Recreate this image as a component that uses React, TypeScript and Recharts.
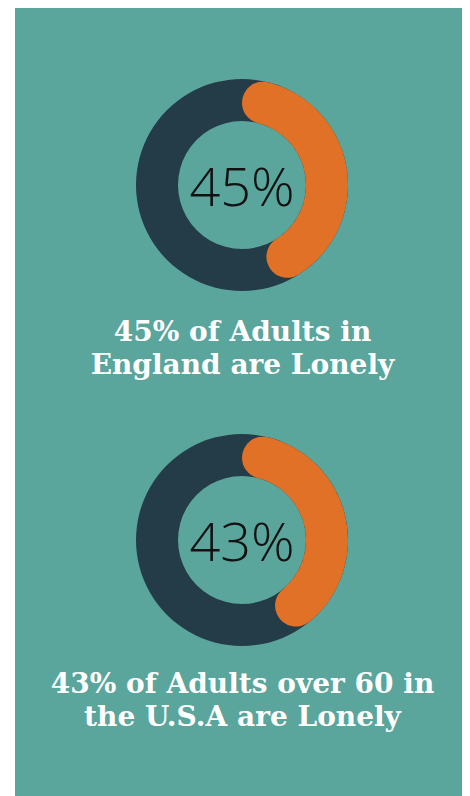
import { PieChart, Pie, Cell } from 'recharts';

const regions = ['England', 'U.S.A'];
const lonelyPct = [45, 43];
const captionLines = [
  ['45% of Adults in', 'England are Lonely'],
  ['43% of Adults over 60 in', 'the U.S.A are Lonely'],
];

const BG = '#5aa59c';
const DARK = '#243b48';
const ORANGE = '#e27128';

const CX = 227;
const centersY = [177, 532];
const captionTop = [307, 659];

export default function App() {
  return (
    <div style={{ position: 'relative', marginLeft: 7, width: 455, height: 788, background: BG }}>
      <PieChart
        width={455}
        height={788}
        margin={{ top: 0, right: 0, bottom: 0, left: 0 }}
        style={{ position: 'absolute', left: 0, top: 0 }}
      >
        {regions.map((r, i) => (
          <Pie
            key={r + '-bg'}
            data={[{ name: 'all', value: 100 }]}
            dataKey="value"
            cx={CX}
            cy={centersY[i]}
            innerRadius={64}
            outerRadius={106}
            startAngle={90}
            endAngle={-270}
            fill={DARK}
            stroke="none"
            isAnimationActive={false}
          />
        ))}
        {regions.map((r, i) => (
          <Pie
            key={r}
            data={[
              { name: 'Lonely', value: lonelyPct[i] },
              { name: 'Rest', value: 100 - lonelyPct[i] },
            ]}
            dataKey="value"
            cx={CX}
            cy={centersY[i]}
            innerRadius={64}
            outerRadius={106}
            startAngle={90}
            endAngle={-270}
            cornerRadius={21}
            stroke="none"
            isAnimationActive={false}
          >
            <Cell fill={ORANGE} />
            <Cell fill="transparent" />
          </Pie>
        ))}
      </PieChart>
      {regions.map((r, i) => (
        <div
          key={r + '-pct'}
          style={{
            position: 'absolute',
            left: CX - 80,
            top: centersY[i] - 40,
            width: 160,
            height: 80,
            lineHeight: '80px',
            textAlign: 'center',
            color: '#111',
            fontFamily: '"Open Sans", sans-serif',
            fontWeight: 300,
            fontSize: 54,
          }}
        >
          {lonelyPct[i]}%
        </div>
      ))}
      {captionLines.map((lines, i) => (
        <div
          key={i}
          style={{
            position: 'absolute',
            left: 0,
            top: captionTop[i],
            width: 455,
            textAlign: 'center',
            color: '#fff',
            fontFamily: '"DejaVu Serif", serif',
            fontWeight: 'bold',
            fontSize: 28,
            lineHeight: '33px',
          }}
        >
          {lines.map((l) => (
            <div key={l}>{l}</div>
          ))}
        </div>
      ))}
    </div>
  );
}
